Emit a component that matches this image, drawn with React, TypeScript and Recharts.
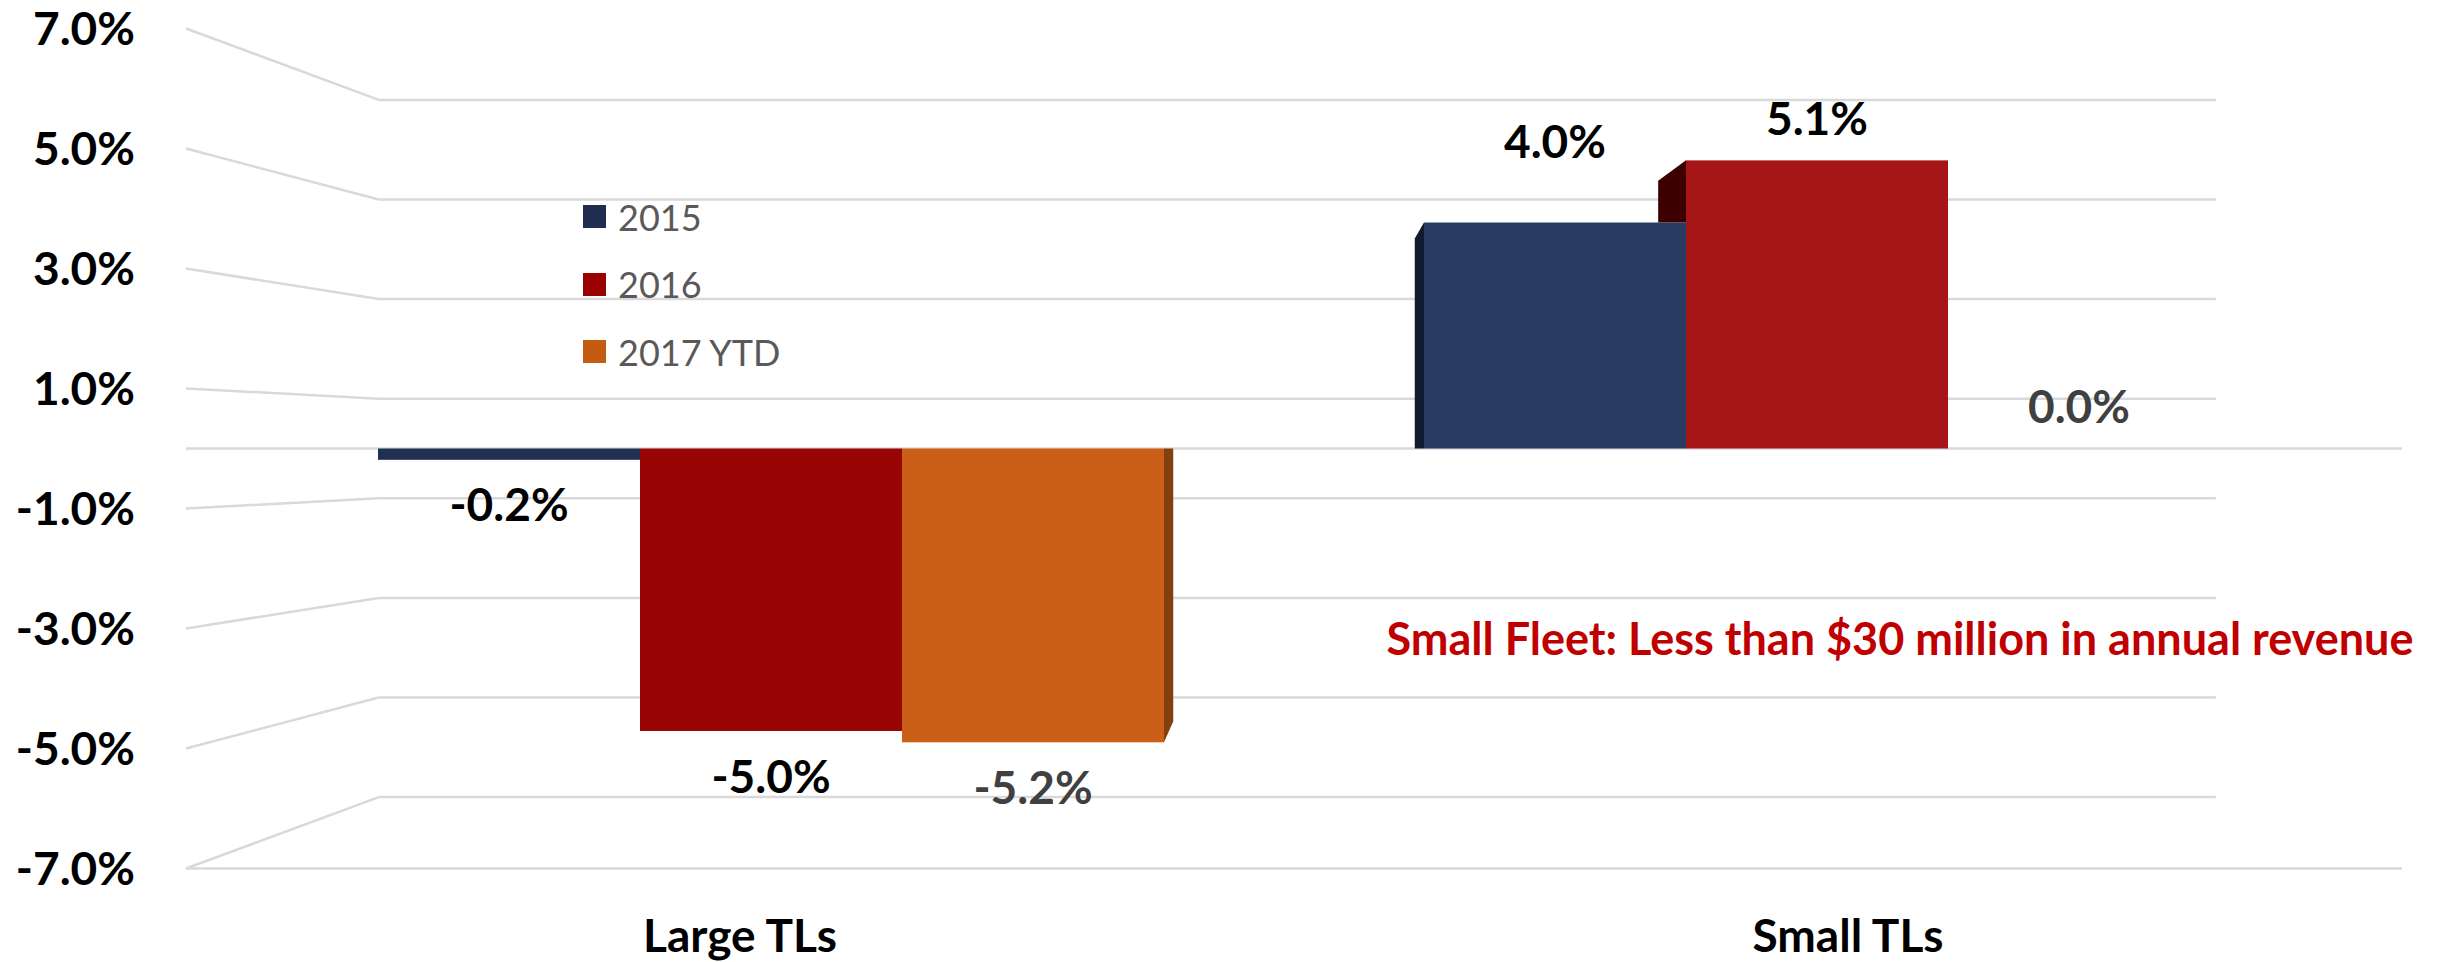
import React from "react";
import {
  BarChart,
  Bar,
  XAxis,
  YAxis,
  ReferenceLine,
  Legend,
  LabelList,
  Customized,
} from "recharts";

// ---------- data ----------
const categories = ["Large TLs", "Small TLs"];
const series2015 = [-0.2, 4.0];
const series2016 = [-5.0, 5.1];
const series2017 = [-5.2, 0.0];
const seriesNames = ["2015", "2016", "2017 YTD"];
const yTicks = [-7, -5, -3, -1, 1, 3, 5, 7];
const annotation = "Small Fleet: Less than $30 million in annual revenue";

const KEYS = ["s2015", "s2016", "s2017"];
const data = categories.map((c, i) => ({
  category: c,
  s2015: series2015[i],
  s2016: series2016[i],
  s2017: series2017[i],
}));

// ---------- style / layout ----------
const FONT = "Lato, 'Open Sans', sans-serif";
const W = 2442;
const H = 962;
const MARGIN = { top: 28.5, right: 40, bottom: 33.5, left: 0 };
const Y_AXIS_W = 186;
const X_AXIS_H = 60;
const PLOT_LEFT = MARGIN.left + Y_AXIS_W;
const PLOT_W = W - MARGIN.right - PLOT_LEFT;
const PLOT_BOTTOM = H - MARGIN.bottom - X_AXIS_H;
const VP_X = PLOT_LEFT + PLOT_W / 2;
const DEPTH = 0.071;
const BAR_PAD = 62;
const BAR_SIZE = 262;
const LABEL_MAX = 7;
const BAR_MAX = 7.434;
const WALL_MAX = 8.434;
const WALL_LEFT = 0.087;
const WALL_RIGHT = 0.916;
const GRID = "#d9d9d9";

const LEGEND_COLORS = ["#1f2e50", "#990000", "#c55a11"];
const FACE_COLORS = [
  ["#1f3052", "#293b60"],
  ["#990505", "#a71616"],
  ["#cc5f18", "#cc5f18"],
];
const SIDE_COLORS = ["#0f1a2c", "#3c0000", "#83400f"];
const LABEL_COLORS = ["#000000", "#000000", "#404040"];
const LABEL_LIFT = [
  [0, 39],
  [0, 0],
  [0, 0],
];

type Pt = [number, number];

function clipHalf(poly: Pt[], yLimit: number, keepAbove: boolean): Pt[] {
  const inside = (p: Pt) => (keepAbove ? p[1] <= yLimit : p[1] >= yLimit);
  const out: Pt[] = [];
  for (let i = 0; i < poly.length; i++) {
    const a = poly[i];
    const b = poly[(i + 1) % poly.length];
    const ia = inside(a);
    const ib = inside(b);
    if (ia) out.push(a);
    if (ia !== ib) {
      const t = (yLimit - a[1]) / (b[1] - a[1]);
      out.push([a[0] + t * (b[0] - a[0]), yLimit]);
    }
  }
  return out;
}

function Bar3D(props: any) {
  const { x, y, width, height, payload, index, si } = props;
  const v = payload[KEYS[si]];
  const top = Math.min(y, y + height);
  const bottom = Math.max(y, y + height);
  const h = bottom - top;
  if (!v || h <= 0) return <g />;
  const zeroY = v >= 0 ? bottom : top;
  const farY = v >= 0 ? top : bottom;
  const scale = h / Math.abs(v);
  const center = x + width / 2;
  const vpLeft = center > VP_X;
  const xe = vpLeft ? x : x + width;
  const xb = VP_X + (xe - VP_X) * (1 - DEPTH);
  const yb = zeroY + (farY - zeroY) * (1 - DEPTH);
  let poly: Pt[] = [
    [xe, zeroY],
    [xe, farY],
    [xb, yb],
    [xb, zeroY],
  ];
  const ni = vpLeft ? si - 1 : si + 1;
  if (ni >= 0 && ni < KEYS.length) {
    const nv = payload[KEYS[ni]];
    if (nv && Math.sign(nv) === Math.sign(v)) {
      const ny = zeroY - nv * scale;
      poly = clipHalf(poly, ny, v > 0);
    }
  }
  return (
    <g>
      {poly.length >= 3 && (
        <polygon
          points={poly.map((p) => p.join(",")).join(" ")}
          fill={SIDE_COLORS[si]}
        />
      )}
      <rect x={x} y={top} width={width} height={h} fill={FACE_COLORS[si][index]} />
    </g>
  );
}

function makeLabel(si: number) {
  return (p: any) => {
    const vb = p.viewBox && p.viewBox.width !== undefined ? p.viewBox : p;
    const { x, y, width, height } = vb;
    const value = p.value;
    const index = p.index ?? 0;
    if (value === undefined || value === null) return null;
    const top = Math.min(y, y + height);
    const bottom = Math.max(y, y + height);
    const cx = x + width / 2;
    const cy = value >= 0 ? top - 42 - LABEL_LIFT[si][index] : bottom + 45;
    return (
      <text
        x={cx}
        y={cy}
        dy="0.36em"
        textAnchor="middle"
        fontFamily={FONT}
        fontWeight={700}
        fontSize={46}
        fill={LABEL_COLORS[si]}
      >
        {Number(value).toFixed(1)}%
      </text>
    );
  };
}

const YTick = (p: any) => (
  <text
    x={PLOT_LEFT - 51}
    y={p.y}
    dy="0.36em"
    textAnchor="end"
    fontFamily={FONT}
    fontWeight={700}
    fontSize={46}
    fill="#000"
  >
    {Number(p.payload.value).toFixed(1)}%
  </text>
);

const XTick = (p: any) => (
  <text
    x={p.x}
    y={PLOT_BOTTOM + 83.5}
    textAnchor="middle"
    fontFamily={FONT}
    fontWeight={700}
    fontSize={46}
    fill="#000"
  >
    {p.payload.value}
  </text>
);

const LegendContent = (p: any) => {
  const items = p.payload || [];
  return (
    <div style={{ display: "flex", flexDirection: "column" }}>
      {items.map((it: any, i: number) => (
        <div
          key={i}
          style={{ display: "flex", alignItems: "center", height: 67.5 }}
        >
          <span
            style={{
              display: "inline-block",
              width: 23,
              height: 23,
              background: it.color,
              marginRight: 12,
            }}
          />
          <span
            style={{
              fontFamily: FONT,
              fontSize: 36,
              color: "#595959",
              lineHeight: 1,
            }}
          >
            {it.value}
          </span>
        </div>
      ))}
    </div>
  );
};

const Annotation = () => (
  <text
    x={1900}
    y={655}
    textAnchor="middle"
    fontFamily={FONT}
    fontWeight={700}
    fontSize={45}
    fill="#c00000"
  >
    {annotation}
  </text>
);

const seg = (x1: number, y1: number, x2: number, y2: number) => [
  { x: x1, y: y1 },
  { x: x2, y: y2 },
];

export default function App() {
  const r = WALL_MAX / LABEL_MAX;
  const lineProps: any = {
    xAxisId: "geo",
    yAxisId: "wall",
    stroke: GRID,
    strokeWidth: 2.5,
    ifOverflow: "visible",
    zIndex: -100,
  };
  return (
    <div style={{ width: W, height: H, background: "#fff" }}>
      <style>{`body{margin:0;}`}</style>
      <BarChart
        width={W}
        height={H}
        data={data}
        margin={MARGIN}
        barGap={0}
      >
        <XAxis
          xAxisId="label"
          dataKey="category"
          height={X_AXIS_H}
          axisLine={false}
          tickLine={false}
          tickSize={0}
          tickMargin={0}
          tick={<XTick />}
          interval={0}
        />
        <XAxis
          xAxisId="bar"
          dataKey="category"
          hide
          padding={{ left: BAR_PAD, right: BAR_PAD }}
        />
        <XAxis
          xAxisId="geo"
          type="number"
          domain={[0, 1]}
          allowDataOverflow
          hide
        />
        <YAxis
          yAxisId="label"
          width={Y_AXIS_W}
          domain={[-LABEL_MAX, LABEL_MAX]}
          ticks={yTicks}
          allowDataOverflow
          axisLine={false}
          tickLine={false}
          tickSize={0}
          tickMargin={51}
          tick={<YTick />}
          interval={0}
        />
        <YAxis
          yAxisId="bar"
          domain={[-BAR_MAX, BAR_MAX]}
          allowDataOverflow
          hide
        />
        <YAxis
          yAxisId="wall"
          domain={[-WALL_MAX, WALL_MAX]}
          allowDataOverflow
          hide
        />
        {yTicks.map((v) => (
          <ReferenceLine
            key={"d" + v}
            {...lineProps}
            segment={seg(0, v * r, WALL_LEFT, v)}
          />
        ))}
        {yTicks.map((v) => (
          <ReferenceLine
            key={"h" + v}
            {...lineProps}
            segment={seg(WALL_LEFT, v, WALL_RIGHT, v)}
          />
        ))}
        <ReferenceLine {...lineProps} segment={seg(0, 0, 1, 0)} />
        <ReferenceLine
          {...lineProps}
          segment={seg(0, -WALL_MAX, 1, -WALL_MAX)}
        />
        {KEYS.map((k, si) => (
          <Bar
            key={k}
            xAxisId="bar"
            yAxisId="bar"
            dataKey={k}
            name={seriesNames[si]}
            fill={LEGEND_COLORS[si]}
            barSize={BAR_SIZE}
            isAnimationActive={false}
            shape={(p: any) => <Bar3D {...p} si={si} />}
          >
            <LabelList dataKey={k} content={makeLabel(si)} />
          </Bar>
        ))}
        <Legend
          layout="vertical"
          align="center"
          verticalAlign="middle"
          content={<LegendContent />}
          wrapperStyle={{ position: "absolute", left: 583, top: 183, width: 300 }}
        />
        <Customized component={<Annotation />} />
      </BarChart>
    </div>
  );
}
